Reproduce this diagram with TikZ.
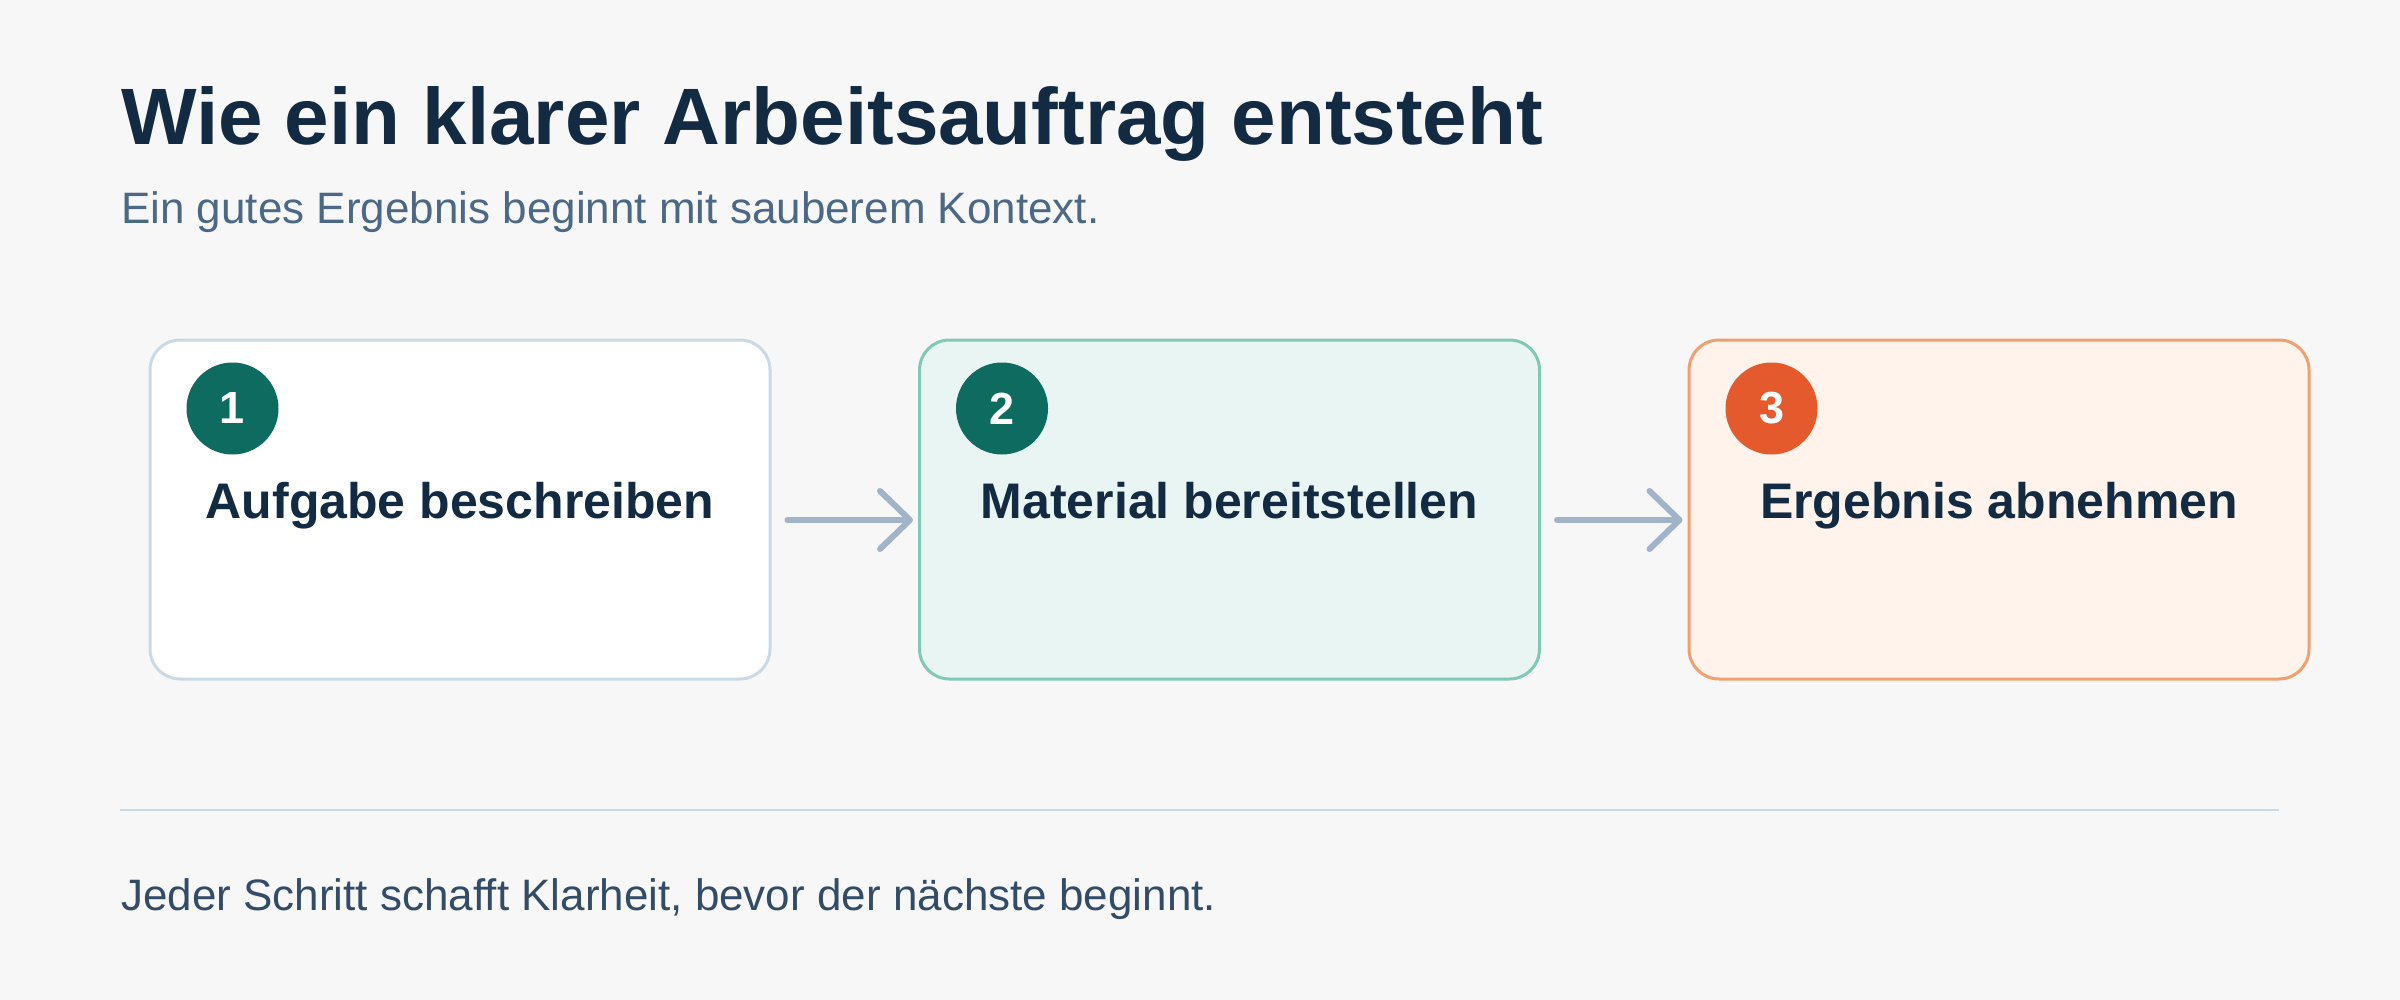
\documentclass[tikz,border=0pt]{standalone}
\usepackage{fontspec}
\setmainfont{Liberation Sans}
\usetikzlibrary{arrows.meta}
\definecolor{bgc}{HTML}{F7F7F7}
\definecolor{titlec}{HTML}{132A43}
\definecolor{subc}{HTML}{4B6886}
\definecolor{footc}{HTML}{324C68}
\definecolor{b1fill}{HTML}{FFFFFF}
\definecolor{b1line}{HTML}{CAD9E6}
\definecolor{b2fill}{HTML}{E9F5F2}
\definecolor{b2line}{HTML}{80C9B6}
\definecolor{b3fill}{HTML}{FFF3EB}
\definecolor{b3line}{HTML}{F0A070}
\definecolor{tealc}{HTML}{0E6B60}
\definecolor{orangec}{HTML}{E55A2C}
\definecolor{arrowc}{HTML}{A0B3C8}
\definecolor{rulec}{HTML}{CAD9E2}
\tikzset{
  stepbox/.style={rectangle, rounded corners=30pt, line width=3pt, minimum width=620pt, minimum height=339pt, inner sep=0pt},
  badge/.style={circle, minimum size=92pt, inner sep=0pt, text=white, font=\fontsize{45}{45}\selectfont\bfseries},
  boxlabel/.style={anchor=base, inner sep=0pt, text=titlec, font=\fontsize{50}{50}\selectfont\bfseries},
  flowarrow/.style={draw=arrowc, line width=6pt, line cap=round, -{Straight Barb[length=30pt,width=58pt,round]}},
}
\begin{document}
\begin{tikzpicture}[x=1pt,y=-1pt]
\fill[bgc] (0,0) rectangle (2400,1000);
\useasboundingbox (0,0) rectangle (2400,1000);
\node[anchor=base west, inner sep=0pt, text=titlec, font=\fontsize{80}{80}\selectfont\bfseries] (title) at (121,145) {Wie ein klarer Arbeitsauftrag entsteht};
\node[anchor=base west, inner sep=0pt, text=subc, font=\fontsize{44}{44}\selectfont] (sub) at (121,224) {Ein gutes Ergebnis beginnt mit sauberem Kontext.};
\node[stepbox, draw=b1line, fill=b1fill] (b1) at (460,509.5) {};
\node[stepbox, draw=b2line, fill=b2fill] (b2) at (1229.5,509.5) {};
\node[stepbox, draw=b3line, fill=b3fill] (b3) at (1999,509.5) {};
\node[badge, fill=tealc] (c1) at ([xshift=84pt,yshift=-70pt]b1.north west) {1};
\node[badge, fill=tealc] (c2) at ([xshift=84pt,yshift=-70pt]b2.north west) {2};
\node[badge, fill=orangec] (c3) at ([xshift=84pt,yshift=-70pt]b3.north west) {3};
\node[boxlabel] (l1) at ([yshift=-180pt]b1.north) {Aufgabe beschreiben};
\node[boxlabel] (l2) at ([yshift=-180pt]b2.north) {Material bereitstellen};
\node[boxlabel] (l3) at ([yshift=-180pt]b3.north) {Ergebnis abnehmen};
\draw[flowarrow] ([xshift=16pt,yshift=-10.5pt]b1.east) -- ([xshift=-5pt,yshift=-10.5pt]b2.west);
\draw[flowarrow] ([xshift=16pt,yshift=-10.5pt]b2.east) -- ([xshift=-5pt,yshift=-10.5pt]b3.west);
\coordinate (r1) at (120,810);
\coordinate (r2) at (2279,810);
\draw[rulec, line width=2pt] (r1) -- (r2);
\node[anchor=base west, inner sep=0pt, text=footc, font=\fontsize{44}{44}\selectfont] (foot) at (121,910) {Jeder Schritt schafft Klarheit, bevor der nächste beginnt.};
\end{tikzpicture}
\end{document}
